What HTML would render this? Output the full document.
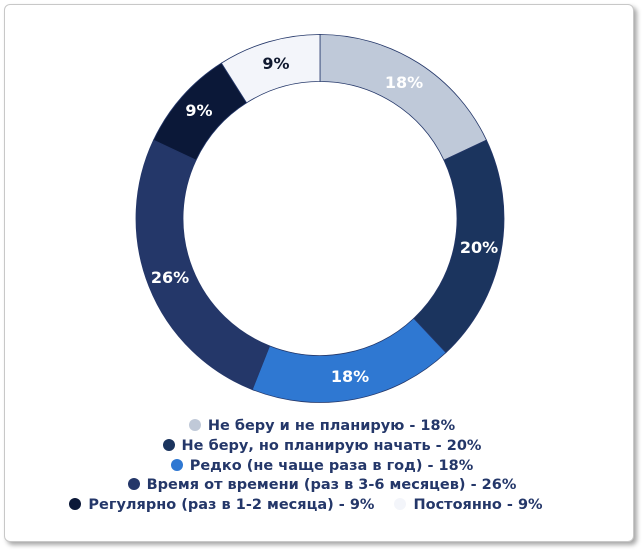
<!DOCTYPE html><html><head><meta charset="utf-8"><style>
body{margin:0;background:#fff;width:644px;height:551px;overflow:hidden;font-family:"DejaVu Sans",Verdana,sans-serif}
.frame{position:absolute;left:4px;top:4px;width:628px;height:536px;border:1px solid #c8c8c8;border-radius:6px;box-shadow:3px 3px 5px rgba(0,0,0,.35);background:#fff}
.leg{position:absolute;left:0;width:644px;text-align:center;font-weight:bold;font-size:14.5px;color:#243769;line-height:20px}
.d{display:inline-block;width:12px;height:12px;border-radius:50%;margin-right:7px;vertical-align:-1px}
</style></head><body>
<div class="frame"></div>
<svg width="644" height="551" style="position:absolute;left:0;top:0" font-family="DejaVu Sans, Verdana, sans-serif" font-weight="bold" font-size="16">
<g id="ring" stroke="#243769" stroke-width="0.8"></g>
<text x="404" y="88" fill="#fff" text-anchor="middle">18%</text>
<text x="479" y="253" fill="#fff" text-anchor="middle">20%</text>
<text x="350" y="382" fill="#fff" text-anchor="middle">18%</text>
<text x="170" y="283" fill="#fff" text-anchor="middle">26%</text>
<text x="199" y="116" fill="#fff" text-anchor="middle">9%</text>
<text x="276" y="69" fill="#111a30" text-anchor="middle">9%</text>
</svg>
<div class="leg" style="top:416px"><span class="d" style="background:#c0c9d8"></span>Не беру и не планирую - 18%</div>
<div class="leg" style="top:436px"><span class="d" style="background:#1b345e"></span>Не беру, но планирую начать - 20%</div>
<div class="leg" style="top:456px"><span class="d" style="background:#2f78d2"></span>Редко (не чаще раза в год) - 18%</div>
<div class="leg" style="top:475px"><span class="d" style="background:#243769"></span>Время от времени (раз в 3-6 месяцев) - 26%</div>
<div class="leg" style="top:495px;left:-16px"><span class="d" style="background:#0b1838"></span>Регулярно (раз в 1-2 месяца) - 9%<span style="display:inline-block;width:20px"></span><span class="d" style="background:#f3f5fa"></span>Постоянно - 9%</div>
<script>
var d=[[18,"#bfc9d9"],[20,"#1b345e"],[18,"#2f78d2"],[26,"#243769"],[9,"#0b1838"],[9,"#f3f5fa"]];
var cx=320,cy=218.5,R=184,r=137,a=0,g=document.getElementById("ring"),s="";
function p(rad,ang){return [cx+rad*Math.sin(ang),cy-rad*Math.cos(ang)];}
d.forEach(function(x){var b=a+x[0]/100*2*Math.PI,l=(b-a)>Math.PI?1:0;
var p1=p(R,a),p2=p(R,b),p3=p(r,b),p4=p(r,a);
s+='<path fill="'+x[1]+'" d="M'+p1+' A'+R+','+R+' 0 '+l+' 1 '+p2+' L'+p3+' A'+r+','+r+' 0 '+l+' 0 '+p4+'Z"/>';a=b;});
g.innerHTML=s;
</script>
</body></html>
